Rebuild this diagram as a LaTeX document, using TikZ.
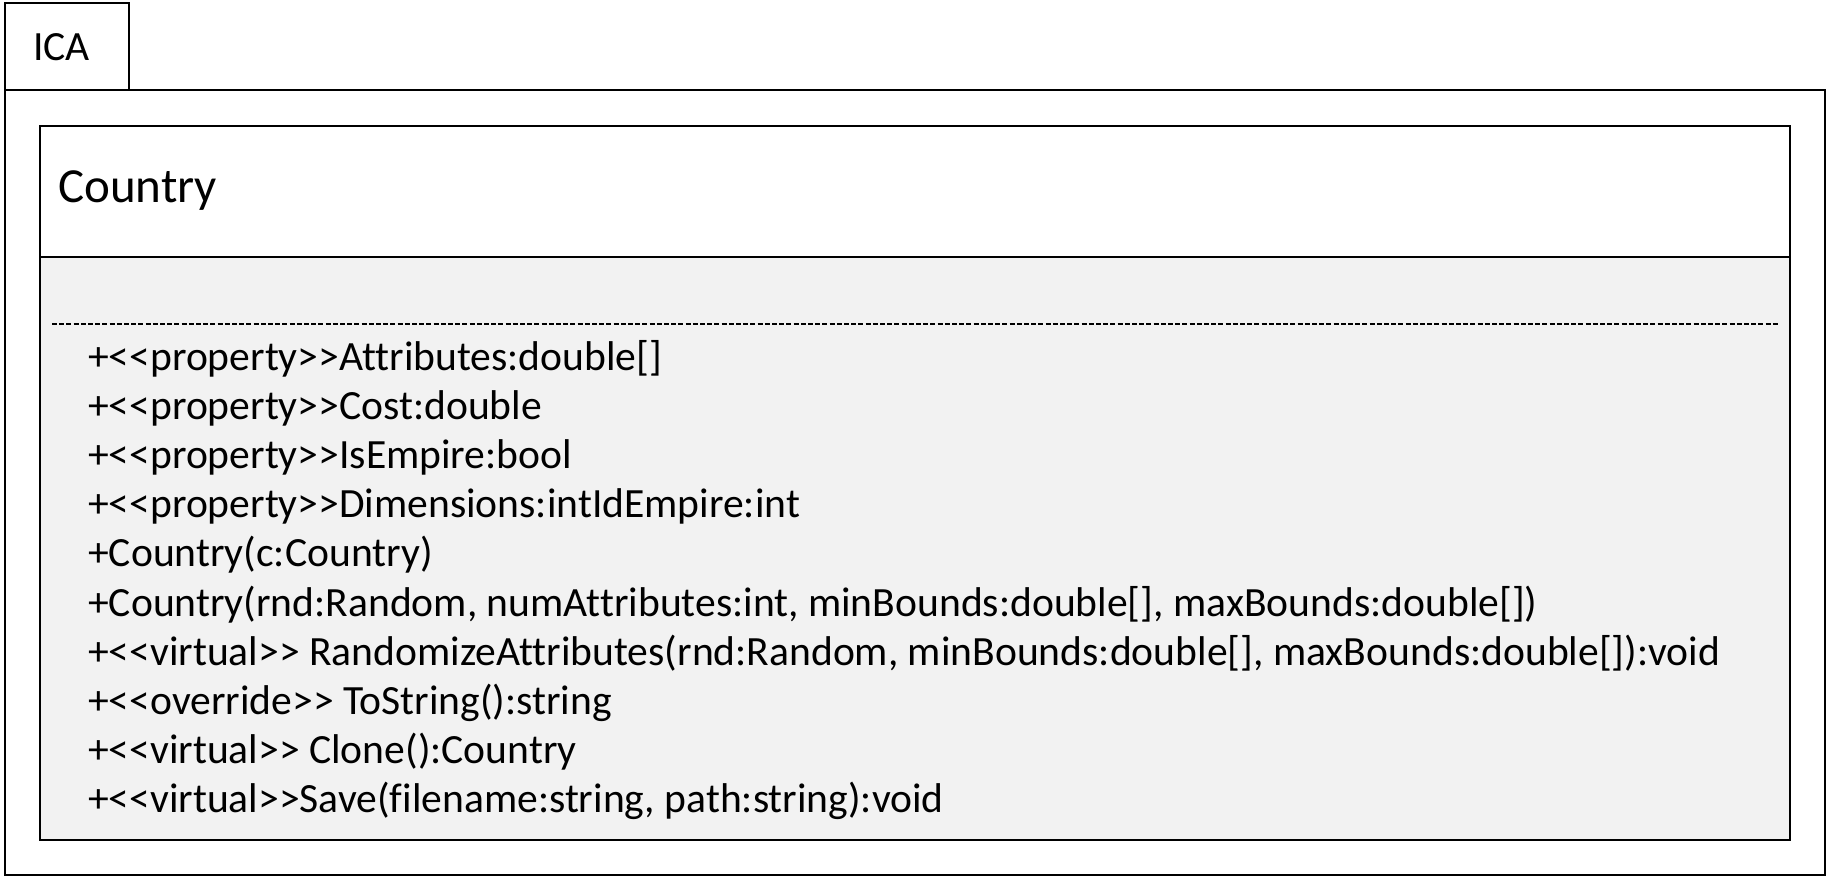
\documentclass[tikz,border=0pt]{standalone}
\usepackage{fontspec}
\setmainfont{Carlito}[Ligatures=NoCommon]
\begin{document}
\begin{tikzpicture}[x=1pt,y=-1pt,
  frame/.style={draw=black,line width=2.6pt},
  memb/.style={anchor=base west,inner sep=0pt,font=\fontsize{41.6}{48}\selectfont},
  ttl/.style={anchor=base west,inner sep=0pt,font=\fontsize{49}{55}\selectfont}]
\useasboundingbox[fill=white] (0,0) rectangle (1831,878);
% package
\draw[frame,fill=white] (5,90) rectangle (1825,875);
\draw[frame,fill=white] (5,3) rectangle (129,90);
\node[memb] (pkg) at (33,60) {ICA};
% class
\draw[frame,fill=white] (40,126) rectangle (1790,257);
\draw[frame,fill={rgb,255:red,242;green,242;blue,242}] (40,257) rectangle (1790,840);
\node[ttl] (cls) at (58,202) {Country};
\coordinate (dl) at (52,324);
\coordinate (dr) at (1778,324);
\draw[line width=2.8pt,dash pattern=on 5pt off 2.2pt] (dl) -- (dr);
\foreach \t [count=\i] in {
 {+<{}<property>{}>Attributes:double[]},
 {+<{}<property>{}>Cost:double},
 {+<{}<property>{}>IsEmpire:bool},
 {+<{}<property>{}>Dimensions:intIdEmpire:int},
 {+Country(c:Country)},
 {+Country(rnd:Random, numAttributes:int, minBounds:double[], maxBounds:double[])},
 {+<{}<virtual>{}> RandomizeAttributes(rnd:Random, minBounds:double[], maxBounds:double[]):void},
 {+<{}<override>{}> ToString():string},
 {+<{}<virtual>{}> Clone():Country},
 {+<{}<virtual>{}>Save(filename:string, path:string):void}}
 \node[memb] (m\i) at (88,{370+49.2*(\i-1)}) {\t};
\end{tikzpicture}
\end{document}
